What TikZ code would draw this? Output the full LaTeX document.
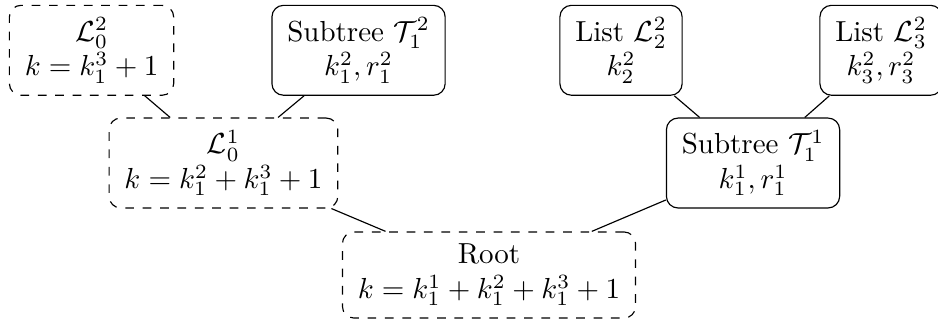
\documentclass[tikz,border=0pt]{standalone}
\tikzset{
    listbox/.style={draw, dashed, rounded corners, align=center, inner xsep=5.3pt, inner ysep=4.2pt},
    treebox/.style={draw, rounded corners, align=center, inner xsep=5.3pt, inner ysep=4.2pt}
}
\begin{document}
\begin{tikzpicture}
    \useasboundingbox (0,0) rectangle (11.375,-3.953);
    % level 0
    \node[listbox] (root) at (5.93,-3.335) {Root\\ $k = k_1^1 + k_1^2 + k_1^3 + 1$};
    % level 1
    \node[listbox] (L01) at (2.71,-1.977) {$\mathcal{L}_0^1$\\ $k = k_1^2 + k_1^3 + 1$};
    \node[treebox] (T11) at (9.132,-1.977) {Subtree $\mathcal{T}_1^1$\\ $k_1^1, r_1^1$};
    % level 2
    \node[listbox] (L02) at (1.11,-0.61) {$\mathcal{L}_0^2$\\ $k = k_1^3 + 1$};
    \node[treebox] (T12) at (4.348,-0.61) {Subtree $\mathcal{T}_1^2$\\ $k_1^2, r_1^2$};
    \node[treebox] (L22) at (7.531,-0.61) {List $\mathcal{L}_2^2$\\ $k_2^2$};
    \node[treebox] (L32) at (10.684,-0.61) {List $\mathcal{L}_3^2$\\ $k_3^2, r_3^2$};
    % edges
    \draw (root) -- (L01);
    \draw (root) -- (T11);
    \draw (L01) -- (L02);
    \draw (L01) -- (T12);
    \draw (T11) -- (L22);
    \draw (T11) -- (L32);
\end{tikzpicture}
\end{document}
